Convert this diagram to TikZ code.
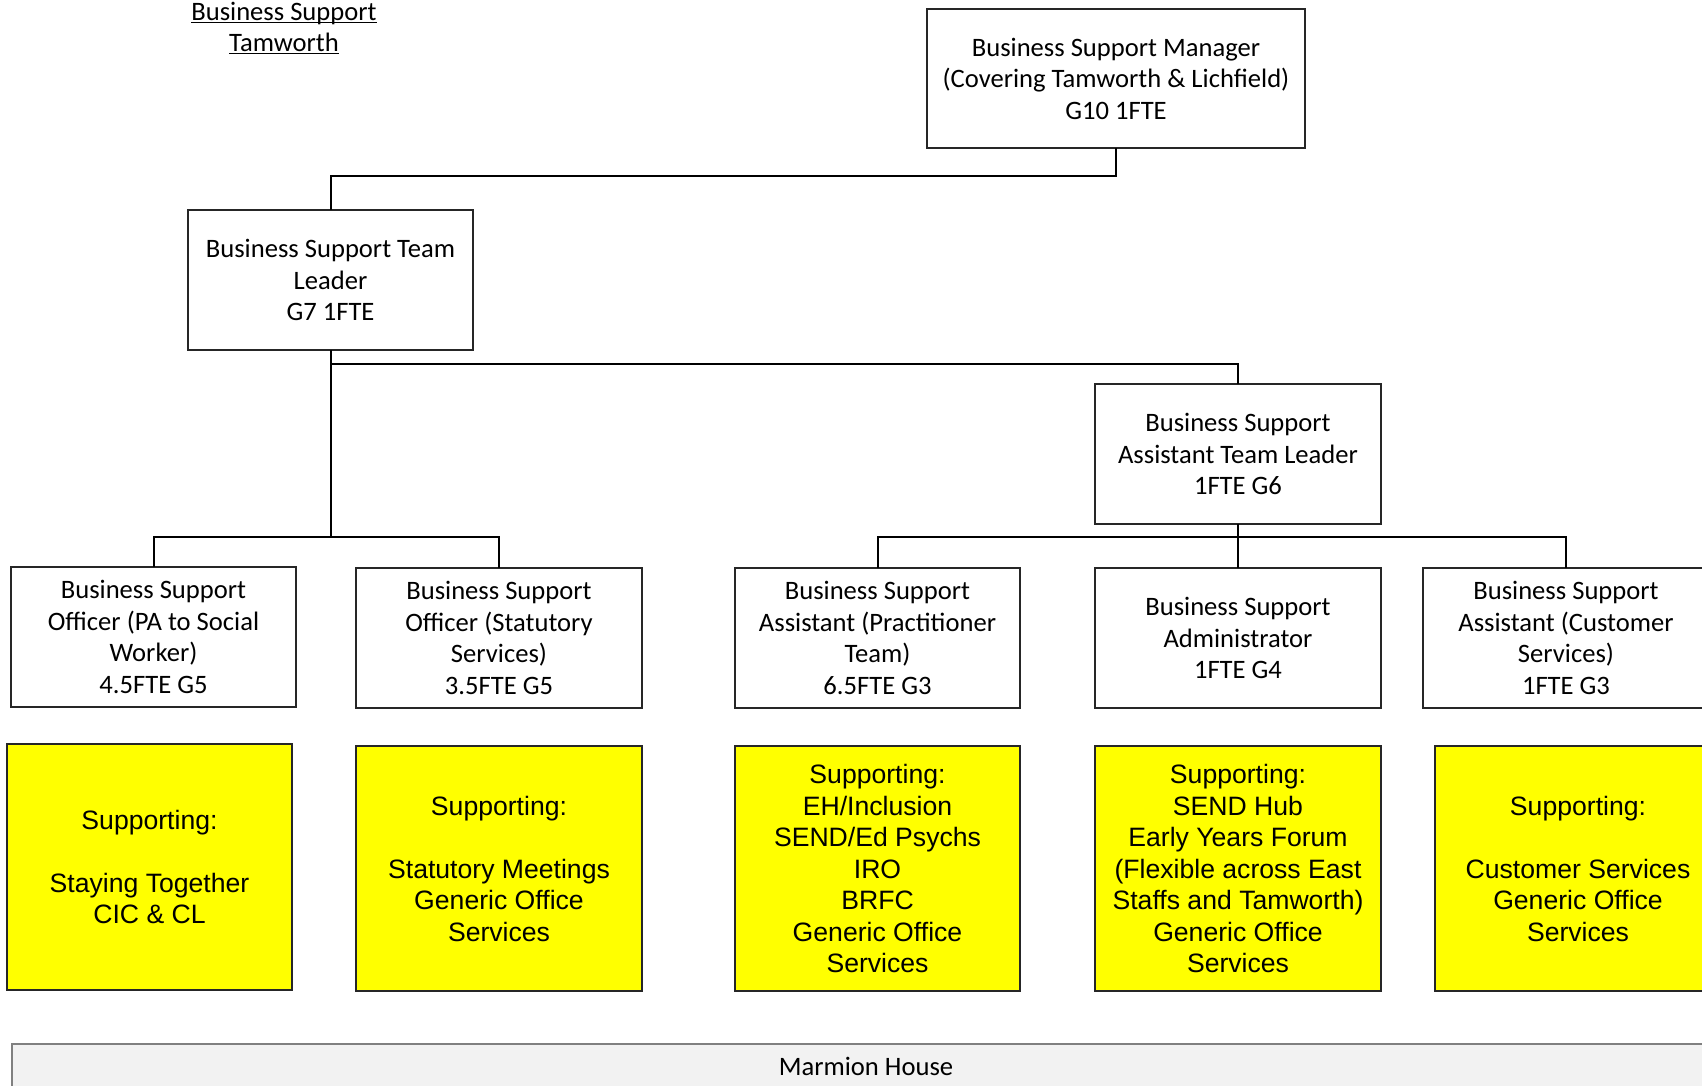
\documentclass[tikz,border=0pt]{standalone}
\usepackage{fontspec}
\setmainfont{Carlito}
\newfontfamily\arialfont{Liberation Sans}
\definecolor{ylw}{HTML}{FFFF00}
\definecolor{footfill}{HTML}{F2F2F2}
\newcommand\myul[1]{\setbox0\hbox{#1}\copy0\llap{\rule[-1.2pt]{\wd0}{0.5pt}}}
\begin{document}
\begin{tikzpicture}[x=0.5pt,y=-0.5pt,
  box/.style={draw=black!85, line width=0.6pt, inner sep=0pt, outer sep=0pt, align=center,
    font=\fontsize{13.3}{15.75}\selectfont, minimum width=142.5pt, minimum height=70pt},
  ybox/.style={box, fill=ylw, font=\arialfont\fontsize{13.3}{15.75}\selectfont, minimum height=122.5pt},
  conn/.style={draw=black, line width=1pt}]
\clip (0,0) rectangle (1702,1086);
\fill[white] (0,0) rectangle (1702,1086);
% title
\node[align=center, inner sep=0pt, font=\fontsize{13.3}{15.75}\selectfont] (title) at (284,28)
  {\myul{Business Support}\\\myul{Tamworth}};
% boxes
\node[box, minimum width=189pt, minimum height=69.5pt] (mgr) at (1116,78.5)
  {Business Support Manager\\(Covering Tamworth \& Lichfield)\\G10 1FTE};
\node[box] (tl) at (330.5,280) {Business Support Team\\Leader\\G7 1FTE};
\node[box, minimum width=143pt] (atl) at (1238,454) {Business Support\\Assistant Team Leader\\1FTE G6};
\node[box] (o1) at (153.5,637) {Business Support\\Officer (PA to Social\\Worker)\\4.5FTE G5};
\node[box, minimum width=143pt] (o2) at (499,638) {Business Support\\Officer (Statutory\\Services)\\3.5FTE G5};
\node[box] (o3) at (877.5,638) {Business Support\\Assistant (Practitioner\\Team)\\6.5FTE G3};
\node[box, minimum width=143pt] (o4) at (1238,638) {Business Support\\Administrator\\1FTE G4};
\node[box, minimum width=143pt] (o5) at (1566,638) {Business Support\\Assistant (Customer\\Services)\\1FTE G3};
% yellow boxes
\node[ybox, minimum height=123pt] (y1) at (149.5,867) {Supporting:\\[15.75pt]Staying Together\\CIC \& CL};
\node[ybox, minimum width=143pt] (y2) at (499,868.5) {Supporting:\\[15.75pt]Statutory Meetings\\Generic Office\\Services};
\node[ybox] (y3) at (877.5,868.5) {Supporting:\\EH/Inclusion\\SEND/Ed Psychs\\IRO\\BRFC\\Generic Office\\Services};
\node[ybox, minimum width=143pt] (y4) at (1238,868.5) {Supporting:\\SEND Hub\\Early Years Forum\\(Flexible across East\\Staffs and Tamworth)\\Generic Office\\Services};
\node[ybox, minimum width=143pt] (y5) at (1578,868.5) {Supporting:\\[15.75pt]Customer Services\\Generic Office\\Services};
% footer
\node[box, draw=black!50, fill=footfill, minimum width=854pt, minimum height=22pt] (mh) at (866,1066) {Marmion House};
% connectors
\coordinate (j1) at (0,176);
\coordinate (j2) at (0,364);
\coordinate (j3) at (0,537);
\draw[conn] (mgr.south) -- (mgr.south |- j1) -- (tl.north |- j1) -- (tl.north);
\draw[conn] (tl.south) -- (tl.south |- j3);
\draw[conn] (tl.south |- j2) -- (atl.north |- j2) -- (atl.north);
\draw[conn] (o1.north) -- (o1.north |- j3) -- (o2.north |- j3) -- (o2.north);
\draw[conn] (atl.south) -- (o4.north);
\draw[conn] (o3.north) -- (o3.north |- j3) -- (o5.north |- j3) -- (o5.north);
\end{tikzpicture}
\end{document}
